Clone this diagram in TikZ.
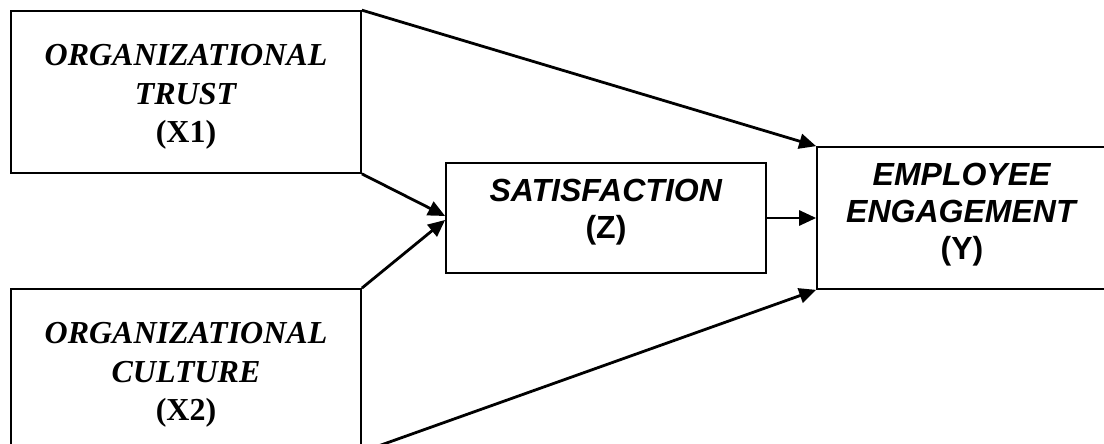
\documentclass[tikz,border=0pt]{standalone}
\usepackage{fontspec}
\setmainfont{Liberation Serif}
\setsansfont{Liberation Sans}
\usetikzlibrary{arrows.meta}

\begin{document}
\begin{tikzpicture}[x=0.5pt, y=-0.5pt,
    box/.style={draw, line width=0.85pt, inner sep=0pt, align=center},
    serifbox/.style={box, minimum width=175pt, minimum height=81pt, font=\fontsize{16}{19.25}\selectfont\bfseries},
    sansbox/.style={box, font=\fontsize{16}{18.5}\selectfont\sffamily\bfseries},
    arr/.style={-{Triangle[length=8.5pt,width=7.5pt]}, line width=1.4pt}
  ]
  \useasboundingbox (0,0) rectangle (1104,444);
  \clip (0,0) rectangle (1104,444);

  \node[serifbox] (trust) at (186,92) {\rule{0pt}{15.5pt}\textit{ORGANIZATIONAL}\\\textit{TRUST}\\(X1)};
  \node[serifbox] (culture) at (186,370) {\rule{0pt}{15.5pt}\textit{ORGANIZATIONAL}\\\textit{CULTURE}\\(X2)};
  \node[sansbox, minimum width=160pt, minimum height=55pt] (satis) at (606,218) {\textit{SATISFACTION}\\(Z)\rule[-9.5pt]{0pt}{1pt}};
  \node[sansbox, minimum width=145pt, minimum height=71pt] (engage) at (962,218) {\textit{EMPLOYEE}\\\textit{ENGAGEMENT}\\(Y)\rule[-6.5pt]{0pt}{1pt}};

  \draw[arr] (trust.north east) -- (engage.north west);
  \draw[arr] (trust.south east) -- ([yshift=1pt]satis.west);
  \draw[arr] (culture.north east) -- ([yshift=-1pt]satis.west);
  \draw[arr] (satis.east) -- (engage.west);
  \draw[arr] (culture.south east) -- (engage.south west);
\end{tikzpicture}
\end{document}
